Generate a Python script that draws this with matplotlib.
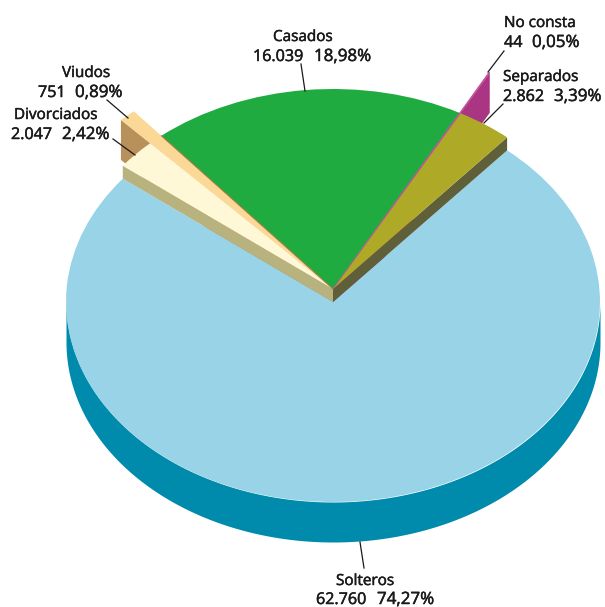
#!/usr/bin/env python3
"""
Estado civil: tarta en perspectiva dibujada sobre ax.pie
"""

import numpy as np
import matplotlib
matplotlib.use('Agg')
import matplotlib.pyplot as plt
import matplotlib.patheffects as pe

# Data
categories = ['Separados', 'No consta', 'Casados', 'Viudos', 'Divorciados', 'Solteros']
values = [2862, 44, 16039, 751, 2047, 62760]
value_labels = ['2.862', '44', '16.039', '751', '2.047', '62.760']
pct_labels = ['3,39%', '0,05%', '18,98%', '0,89%', '2,42%', '74,27%']

top_colors = ['#AFA928', '#C24F9B', '#1FAB40', '#FBD896', '#FFF8D7', '#99D3E8']
wall_colors = {'Separados': '#5F5F39', 'No consta': '#A93583', 'Viudos': '#B8905A',
               'Divorciados': '#B8B27E', 'Solteros': '#008AAB'}

# Layout in pixels of the 605x607 picture
W, H = 605, 607
CX, CY = 333, 289
RX, RY = 267, 200
LOW = 13      # drop of the big slice and depth of the short walls
DEEP = 40     # depth of the tall walls


def px(x, y):
    return (x - CX) / RX, (CY - y) / RY


fig = plt.figure(figsize=(W / 100, H / 100), dpi=100, facecolor='white')
ax = fig.add_axes([0, 0, 1, 1])

wedges, _ = ax.pie(values, colors=top_colors, startangle=49.3, radius=1,
                   wedgeprops={'linewidth': 0})
ax.set_aspect('auto')
ax.set_xlim(px(0, 0)[0], px(W, 0)[0])
ax.set_ylim(px(0, H)[1], px(0, 0)[1])
ax.axis('off')

by_name = dict(zip(categories, wedges))
by_name['Solteros'].set_center((0, -LOW / RY))
by_name['Viudos'].set_radius(1.16)
by_name['No consta'].set_radius(1.23)
by_name['No consta'].set(edgecolor='#C24F9B', linewidth=0.5)

for w in wedges:
    w.set_zorder(5)
by_name['Solteros'].set_zorder(2)
by_name['Casados'].set_zorder(4)


def edge_wall(name, theta, depth, zorder):
    # flat side of a slice, from the centre out to its rim
    w = by_name[name]
    t = np.radians(theta)
    x, y = w.r * np.cos(t), w.r * np.sin(t)
    d = depth / RY
    ax.fill([0, x, x, 0], [0, y, y - d, -d], color=wall_colors[name], lw=0, zorder=zorder)


# Outer wall of the big slice
t = np.linspace(np.pi, 2 * np.pi, 300)
y0 = np.sin(t) - LOW / RY
ax.fill_between(np.cos(t), y0, y0 - DEEP / RY, color=wall_colors['Solteros'], lw=0, zorder=1)

# tall walls sit behind the big slice, short ones in front of it
edge_wall('No consta', by_name['No consta'].theta1, DEEP, 1.5)
edge_wall('Viudos', by_name['Viudos'].theta2, DEEP, 1.5)
edge_wall('Separados', by_name['Separados'].theta1, LOW, 3)
edge_wall('Divorciados', by_name['Divorciados'].theta2, LOW, 3)

# Thin brown edge between Casados and Viudos
t_v = np.radians(by_name['Viudos'].theta1)
ax.plot([0, np.cos(t_v)], [0, np.sin(t_v)], color='#A5763C', lw=0.7, zorder=6)

# Leader lines
leaders = [((107, 100), (128, 118)), ((113, 139), (135, 155)), ((504, 51), (488, 72)),
           ((503, 104), (484, 123)), ((301, 64), (305, 91)), ((360, 542), (364, 568))]
for a, b in leaders:
    xa, ya = px(*a)
    xb, yb = px(*b)
    ax.plot([xa, xb], [ya, yb], color='#1A1A1A', lw=0.9, zorder=7)

# Labels: name (x, baseline), value (x, baseline), percentage x
label_pos = {
    'Casados': ((273, 41), (253, 61), 314),
    'No consta': ((504, 27), (504, 47), 532),
    'Separados': ((503, 81), (503, 101), 554),
    'Viudos': ((62, 77), (38, 97), 75),
    'Divorciados': ((14, 119), (11, 139), 62),
    'Solteros': ((336, 585), (316, 604), 377),
}
stroke = [pe.withStroke(linewidth=0.35, foreground='#1A1A1A')]


def put(x, y, s, size):
    fig.text(x / W, 1 - y / H, s, ha='left', va='baseline', family='Open Sans',
             fontsize=size, color='#1A1A1A', path_effects=stroke)


for name, val, pct in zip(categories, value_labels, pct_labels):
    p1, p2, pct_x = label_pos[name]
    put(p1[0], p1[1], name, 11.0)
    put(p2[0], p2[1], val, 11.6)
    put(pct_x, p2[1], pct, 12.2)

fig.savefig('out.png', dpi=100, facecolor='white')
plt.close()
